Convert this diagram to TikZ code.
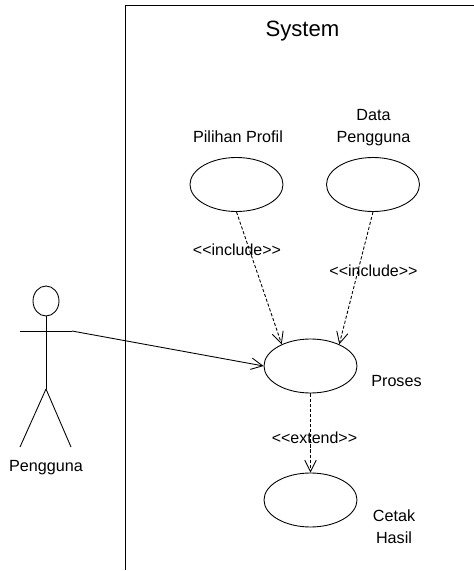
\documentclass[tikz,border=0pt]{standalone}
\usepackage{fontspec}
\setmainfont{Liberation Sans}
\usetikzlibrary{positioning, arrows.meta, shapes.geometric}
\tikzset{
  usecase/.style = {draw, ellipse, minimum width=1.86cm, minimum height=1.08cm, inner sep=0pt},
  label/.style = {font=\fontsize{9.2}{12.5}\selectfont, align=center},
  stereo/.style = {font=\fontsize{9.1}{11}\selectfont},
  dep/.style = {dash pattern=on 1.8pt off 1.1pt, -{Straight Barb[length=6.5pt,width=6.5pt]}},
  assoc/.style = {-{Straight Barb[length=6.5pt,width=6.5pt]}}
}
\begin{document}
\begin{tikzpicture}[line width=0.5pt]
        \useasboundingbox (0, 0) rectangle (9.48, 11.42);
        % usecases
        \node [usecase] (profil) at (4.73, 7.73) {};
        \node [usecase] (data) at (7.46, 7.73) {};
        \node [usecase] (proses) at (6.21, 4.1) {};
        \node [usecase] (cetak) at (6.21, 1.42) {};
        % system boundary
        \coordinate (corner) at (2.51, 11.31);
        \coordinate (right) at (9.48, 11.31);
        \coordinate (bottom) at (2.51, 0.02);
        \draw (right) -- (corner) -- (bottom);
        % actor
        \draw (0.92, 5.4) ellipse (0.26 and 0.3);
        \coordinate (neck) at (0.92, 5.1);
        \coordinate (hip) at (0.92, 3.64);
        \coordinate (handl) at (0.4, 4.8);
        \coordinate (handr) at (1.44, 4.8);
        \draw (neck) -- (hip);
        \draw (handl) -- (handr);
        \draw (hip) -- (0.4, 2.48);
        \draw (hip) -- (1.42, 2.48);
        % labels
        \node [font=\fontsize{12.6}{15}\selectfont] (system) at (6.05, 10.8) {System};
        \node [label] (lprofil) at (4.76, 8.69) {Pilihan Profil};
        \node [label] (ldata) at (7.47, 8.86) {Data\\Pengguna};
        \node [label] (lproses) at (7.93, 3.8) {Proses};
        \node [label] (lcetak) at (7.88, 0.88) {Cetak\\Hasil};
        \node [label] (lactor) at (0.92, 2.07) {Pengguna};
        % connectors
        \draw [assoc] (handr) -- (proses.west);
        \draw [dep] (profil.south) -- (proses.143);
        \draw [dep] (data.south) -- (proses.37);
        \draw [dep] (proses.south) -- (cetak.north);
        \node [stereo] (inc1) at (4.74, 6.43) {<{}<include>{}>};
        \node [stereo] (inc2) at (7.47, 6.0) {<{}<include>{}>};
        \node [stereo] (ext) at (6.29, 2.67) {<{}<extend>{}>};
\end{tikzpicture}
\end{document}
